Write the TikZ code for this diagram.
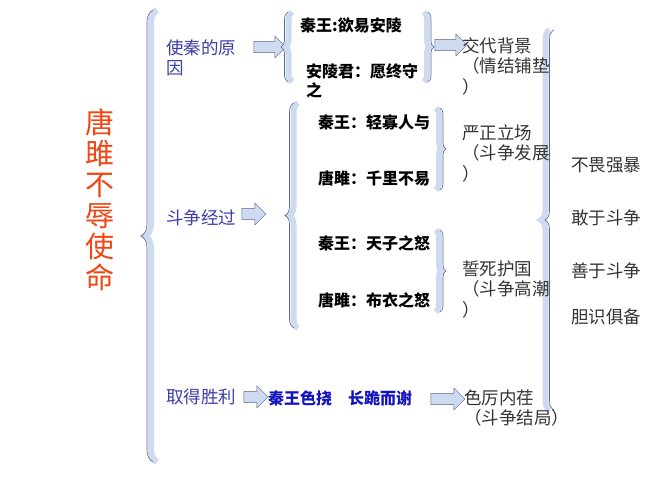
\documentclass[tikz,border=0pt]{standalone}
\usepackage{fontspec}
\setmainfont{Noto Sans CJK SC}
\usetikzlibrary{shapes.arrows,decorations.pathreplacing,positioning}
\definecolor{bandblue}{RGB}{205,218,240}
\definecolor{lineblue}{RGB}{90,100,140}
\definecolor{textblue}{RGB}{60,60,170}
\definecolor{boldblue}{RGB}{20,20,190}
\definecolor{titlered}{RGB}{240,70,20}
\begin{document}
\begin{tikzpicture}[x=1pt,y=1pt,
  every node/.style={font=\fontsize{17.5}{20.5}\selectfont,inner sep=0pt},
  blue text/.style={text=textblue,anchor=west,align=left},
  plain text/.style={text=black!80,anchor=west,align=left},
  bold text/.style={text=black,anchor=west,font=\fontsize{16}{19}\selectfont\bfseries},
  hollow arrow/.style={single arrow,draw=lineblue,fill=bandblue,minimum height=#1,
    minimum width=22pt,single arrow head extend=3pt,inner sep=3pt}]
\useasboundingbox (0,0) rectangle (667,500);
\tikzset{
  lbrace/.style={decorate,decoration={brace,amplitude=#1},draw=lineblue,semithick},
  band/.style={decorate,decoration={brace,amplitude=#1},draw=bandblue,line width=6pt}}
% title
\node[text=titlered,font=\fontsize{29}{31}\selectfont,align=center] (title) at (100,300)
  {唐\\雎\\不\\辱\\使\\命};
% big braces
\draw[band=12] (157,38) -- (157,490);
\draw[lbrace=12] (153,38) -- (153,490);
\draw[band=9] (550,90) -- (550,470);
\draw[lbrace=9] (554,90) -- (554,470);
% row 1
\node[blue text] (cause) at (166,442) {使秦的原\\因};
\node[hollow arrow=32pt] (a1) at (267,453) {};
\draw[band=7] (292,418) -- (292,488);
\draw[lbrace=7] (288,418) -- (288,488);
\node[bold text] (q1) at (300,475) {秦王:欲易安陵};
\node[bold text,align=left] (ay) at (306,419) {安陵君：愿终守\\之};
\draw[band=6] (424,488) -- (424,418);
\draw[lbrace=6] (428,488) -- (428,418);
\node[hollow arrow=32pt] (a2) at (448,455) {};
\node[plain text] (bg) at (462,434) {交代背景\\（情结铺垫\\）};
% row 2
\node[blue text] (fight) at (166,282) {斗争经过};
\node[hollow arrow=24pt] (a3) at (251,286) {};
\draw[band=9] (298,172) -- (298,397);
\draw[lbrace=9] (294,172) -- (294,397);
\node[bold text] (q2) at (318,378) {秦王：轻寡人与};
\node[bold text] (t2) at (318,322) {唐雎：千里不易};
\draw[band=6] (436,392) -- (436,310);
\draw[lbrace=6] (440,392) -- (440,310);
\node[plain text] (dev) at (462,347) {严正立场\\（斗争发展\\）};
\node[bold text] (q3) at (318,257) {秦王：天子之怒};
\node[bold text] (t3) at (318,200) {唐雎：布衣之怒};
\draw[band=6] (436,270) -- (436,188);
\draw[lbrace=6] (440,270) -- (440,188);
\node[plain text] (peak) at (462,211) {誓死护国\\（斗争高潮\\）};
% row 3
\node[blue text] (win) at (166,103) {取得胜利};
\node[hollow arrow=24pt] (a4) at (253,103) {};
\node[anchor=west,text=boldblue,font=\fontsize{16}{19}\selectfont\bfseries] (end) at (268,102)
  {秦王色挠\quad 长跪而谢};
\node[hollow arrow=34pt] (a5) at (445,101) {};
\node[plain text] (res) at (464,92) {色厉内荏\\（斗争结局）};
% qualities
\node[plain text] (s1) at (571,335) {不畏强暴};
\node[plain text] (s2) at (571,282) {敢于斗争};
\node[plain text] (s3) at (571,229) {善于斗争};
\node[plain text] (s4) at (571,183) {胆识俱备};
\end{tikzpicture}
\end{document}
